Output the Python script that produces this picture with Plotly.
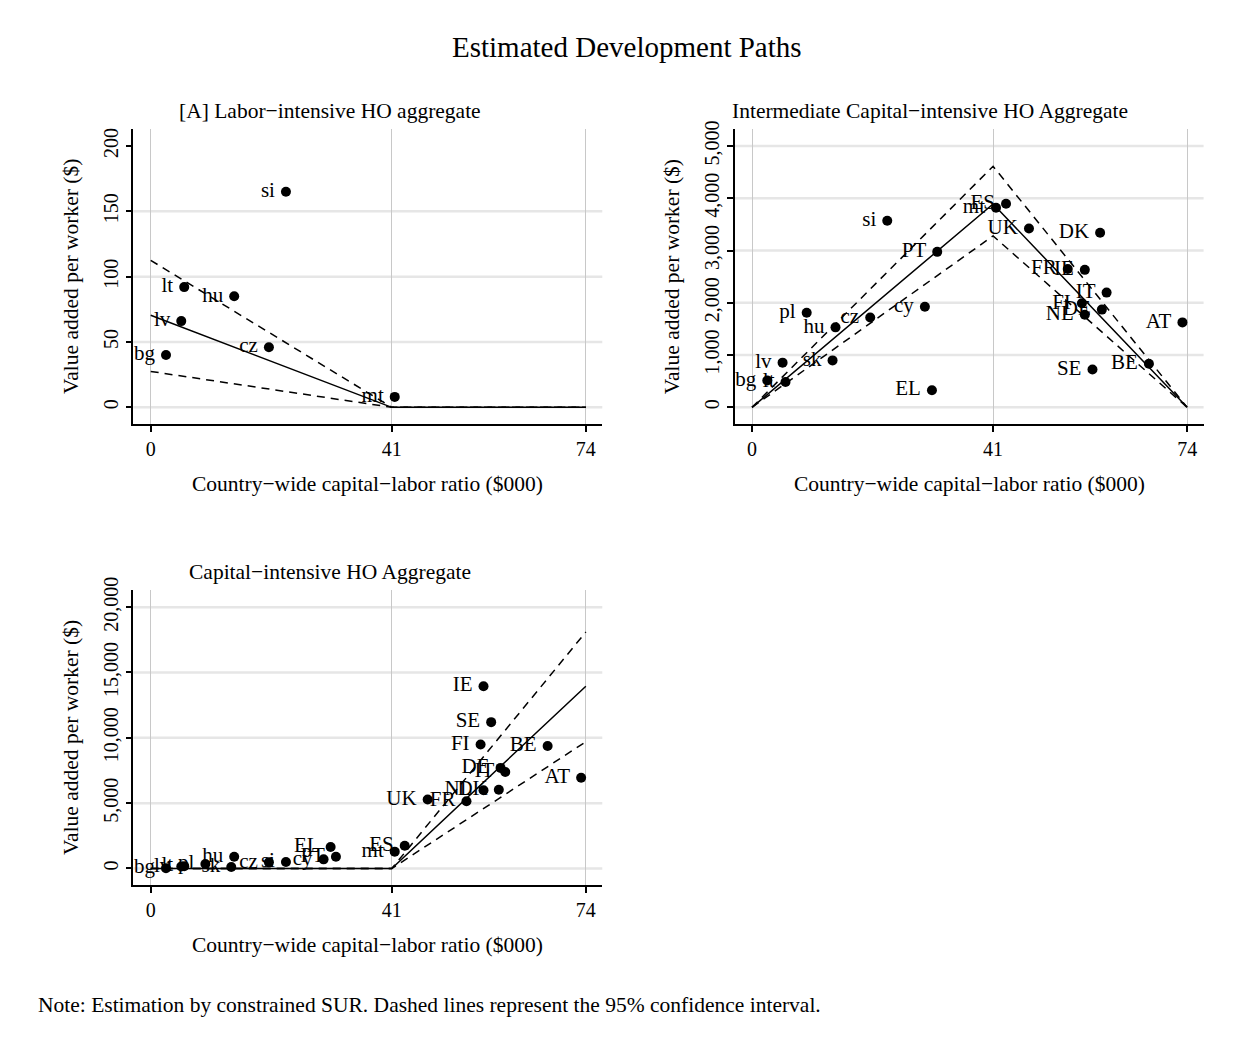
import plotly.graph_objects as go

# ---------------- data ----------------
countries_a = ["si", "lt", "hu", "lv", "cz", "bg", "mt"]
kl_a = [23.0, 5.7, 14.2, 5.2, 20.1, 2.6, 41.5]
va_a = [165, 92, 85, 66, 46, 40, 8]

countries_b = ["si", "ES", "mt", "UK", "DK", "PT", "FR", "IE", "IT", "FI", "DE", "NL",
               "AT", "cy", "pl", "cz", "hu", "sk", "lv", "BE", "SE", "bg", "lt", "EL"]
kl_b = [23.0, 43.2, 41.5, 47.1, 59.2, 31.5, 53.7, 56.6, 60.3, 56.1, 59.5, 56.6,
        73.2, 29.4, 9.3, 20.1, 14.2, 13.7, 5.2, 67.5, 57.9, 2.6, 5.7, 30.6]
va_b = [3570, 3895, 3820, 3420, 3340, 2975, 2645, 2630, 2195, 1990, 1870, 1770,
        1625, 1925, 1810, 1720, 1530, 898, 855, 835, 725, 512, 485, 328]

countries_c = ["IE", "SE", "FI", "BE", "DE", "IT", "AT", "NL", "DK", "UK", "FR", "ES",
               "mt", "EL", "PT", "cy", "si", "cz", "hu", "sk", "pl", "lv", "lt", "bg"]
kl_c = [56.6, 57.9, 56.1, 67.5, 59.5, 60.3, 73.2, 56.6, 59.2, 47.1, 53.7, 43.2,
        41.5, 30.6, 31.5, 29.4, 23.0, 20.1, 14.2, 13.7, 9.3, 5.2, 5.7, 2.6]
va_c = [13950, 11200, 9490, 9370, 7700, 7390, 6950, 5990, 6020, 5280, 5150, 1740,
        1290, 1640, 900, 700, 500, 470, 900, 120, 340, 150, 180, 20]

fit_knots = [0, 41, 74]
fit_a = [70.5, 0, 0]
hi_a = [112.5, 0, 0]
lo_a = [27.5, 0, 0]
fit_b = [0, 3890, 0]
hi_b = [0, 4612, 0]
lo_b = [0, 3280, 0]
fit_c = [0, 0, 13950]
hi_c = [0, 0, 18100]
lo_c = [0, 0, 9700]

x_ticks = [0, 41, 74]
y_ticks_a = [0, 50, 100, 150, 200]
y_ticks_b = [0, 1000, 2000, 3000, 4000, 5000]
y_ticks_c = [0, 5000, 10000, 15000, 20000]
y_grid_a = [0, 50, 100, 150]
y_grid_b = [0, 1000, 2000, 3000, 4000, 5000]
y_grid_c = [0, 5000, 10000, 15000, 20000]

titles = ["[A] Labor\u2212intensive HO aggregate",
          "Intermediate Capital\u2212intensive HO Aggregate",
          "Capital\u2212intensive HO Aggregate"]
main_title = "Estimated Development Paths"
x_title = "Country\u2212wide capital\u2212labor ratio ($000)"
y_title = "Value added per worker ($)"
note = "Note: Estimation by constrained SUR. Dashed lines represent the 95% confidence interval."

# ---------------- layout helpers ----------------
PAGE_W, PAGE_H = 1252, 1041
OFF = 8  # default body margin of the page
W, H = PAGE_W - 2 * OFF, PAGE_H - 2 * OFF
FONT = "Liberation Serif"
TOP_SHIFT, V_SCALE = 13.0, 0.9875  # empirical vertical calibration


def px(x):
    return (x - OFF) / W


def py(y):
    yf = (y - TOP_SHIFT) / V_SCALE
    return 1 - (yf - OFF) / H


# panel pixel boxes on the page: (left, right, top, bottom)
boxes = [(133.3, 602.3, 128.3, 423.3),
         (734.6, 1203.6, 128.3, 423.3),
         (133.3, 602.3, 590.0, 885.0)]
title_x = [329.5, 930.5, 329.5]
y_ranges = [[-12.7, 212.8], [-317.5, 5320], [-1270, 21280]]
x_range = [-2.96, 76.8]

fig = go.Figure()

panels = [
    (countries_a, kl_a, va_a, fit_a, hi_a, lo_a, y_ticks_a, y_grid_a),
    (countries_b, kl_b, va_b, fit_b, hi_b, lo_b, y_ticks_b, y_grid_b),
    (countries_c, kl_c, va_c, fit_c, hi_c, lo_c, y_ticks_c, y_grid_c),
]

for i, (cn, kx, vy, fit, hi, lo, yt, yg) in enumerate(panels):
    n = "" if i == 0 else str(i + 1)
    xa, ya = "x" + n, "y" + n
    for g in yg:
        fig.add_shape(type="line", xref=xa + " domain", yref=ya, x0=0, x1=1, y0=g, y1=g,
                      line=dict(color="#e6e6e6", width=2.5), layer="below")
    for ys, dash in ((hi, "8px,6px"), (lo, "8px,6px"), (fit, "solid")):
        fig.add_trace(go.Scatter(x=fit_knots, y=ys, mode="lines", xaxis=xa, yaxis=ya,
                                 line=dict(color="black", width=1.5, dash=dash),
                                 showlegend=False, hoverinfo="skip"))
    fig.add_trace(go.Scatter(x=kx, y=vy, text=cn, mode="markers+text", xaxis=xa, yaxis=ya,
                             textposition="middle left",
                             textfont=dict(family=FONT, size=21, color="black"),
                             marker=dict(color="rgba(0,0,0,0)", size=16),
                             showlegend=False, hoverinfo="skip"))
    fig.add_trace(go.Scatter(x=kx, y=vy, text=cn, mode="markers", xaxis=xa, yaxis=ya,
                             marker=dict(color="black", size=10),
                             showlegend=False))
    l, r, t, b = boxes[i]
    common = dict(showline=True, linecolor="black", linewidth=1.6, ticks="outside",
                  ticklen=6, tickwidth=1.5, tickcolor="black", zeroline=False,
                  tickfont=dict(family=FONT, size=20, color="black"))
    fig.layout["xaxis" + n] = dict(domain=[px(l), px(r)], anchor=ya, range=x_range,
                                   tickvals=x_ticks, ticktext=[str(v) for v in x_ticks],
                                   showgrid=True, gridcolor="#c8c8c8", gridwidth=1.2,
                                   **common)
    fig.layout["yaxis" + n] = dict(domain=[py(b), py(t)], anchor=xa, range=y_ranges[i],
                                   tickvals=yt, ticktext=[f"{v:,}" for v in yt],
                                   tickangle=-90, showgrid=False, **common)
    fig.add_annotation(text=titles[i], x=px(title_x[i]), y=py(t - 18), xref="paper",
                       yref="paper", showarrow=False, xanchor="center", yanchor="middle",
                       font=dict(family=FONT, size=21.5, color="black"))
    fig.add_annotation(text=x_title, x=px((l + r) / 2), y=py(b + 60), xref="paper",
                       yref="paper", showarrow=False, xanchor="center", yanchor="middle",
                       font=dict(family=FONT, size=21.5, color="black"))
    fig.add_annotation(text=y_title, x=px(l - 63), y=py((t + b) / 2), xref="paper",
                       yref="paper", showarrow=False, xanchor="center", yanchor="middle",
                       textangle=-90, font=dict(family=FONT, size=21.5, color="black"))

fig.add_annotation(text=main_title, x=px(627), y=py(46), xref="paper", yref="paper",
                   showarrow=False, xanchor="center", yanchor="middle",
                   font=dict(family=FONT, size=29, color="black"))
fig.add_annotation(text=note, x=px(36), y=py(1005), xref="paper", yref="paper",
                   showarrow=False, xanchor="left", yanchor="middle",
                   font=dict(family=FONT, size=21.5, color="black"))

fig.update_layout(width=W, height=H, margin=dict(l=0, r=0, t=0, b=0),
                  paper_bgcolor="white", plot_bgcolor="white",
                  font=dict(family=FONT, color="black"))

fig.write_html("out.html", config={"displayModeBar": False})
